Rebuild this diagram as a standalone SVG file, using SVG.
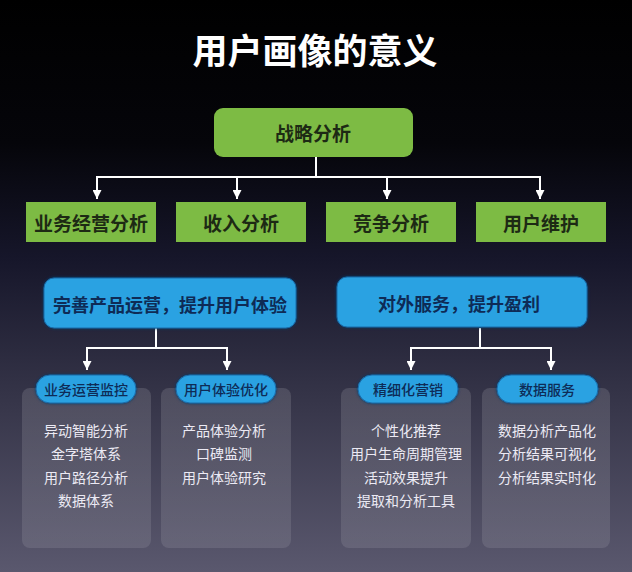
<svg xmlns="http://www.w3.org/2000/svg" width="632" height="572" viewBox="0 0 632 572">
<defs>
<linearGradient id="bg" x1="0" y1="0" x2="0" y2="1">
<stop offset="0" stop-color="#000000"/>
<stop offset="0.25" stop-color="#05050a"/>
<stop offset="0.45" stop-color="#16162a"/>
<stop offset="0.7" stop-color="#363549"/>
<stop offset="1" stop-color="#5a586e"/>
</linearGradient>
<linearGradient id="panel" x1="0" y1="0" x2="0" y2="1">
<stop offset="0" stop-color="#ffffff" stop-opacity="0.13"/>
<stop offset="1" stop-color="#ffffff" stop-opacity="0.10"/>
</linearGradient>
<filter id="glow" x="-10%" y="-30%" width="120%" height="160%">
<feGaussianBlur in="SourceAlpha" stdDeviation="2"/>
<feFlood flood-color="#0b3a6a"/>
<feComposite operator="in" in2="SourceAlpha"/>
<feGaussianBlur stdDeviation="1.5"/>
<feMerge><feMergeNode/><feMergeNode in="SourceGraphic"/></feMerge>
</filter>
<marker id="arrow" viewBox="0 0 10 10" refX="10" refY="5" markerWidth="9" markerHeight="9" orient="auto" markerUnits="userSpaceOnUse">
<path d="M0,0 L10,5 L0,10 z" fill="#ffffff"/>
</marker>
</defs>
<style>
text{font-family:"Noto Sans CJK SC","Noto Sans",sans-serif;text-anchor:middle;dominant-baseline:central}
.title{font-size:35px;font-weight:700;fill:#ffffff}
.green{fill:#7dbb44}
.gtxt{font-size:19px;font-weight:700;fill:#1d2a14}
.blue{fill:#29a2e2;stroke:#1a6aa8;stroke-width:1}
.btxt{font-size:18px;font-weight:700;fill:#0e2b56}
.pill{fill:#29a2e2;stroke:#1a6aa8;stroke-width:1}
.ptxt{font-size:14px;font-weight:500;fill:#0e2b56}
.panel{fill:url(#panel)}
.item{font-size:14px;fill:#eceaf4}
.conn{stroke:#ffffff;stroke-width:2;fill:none}
</style>
<rect x="0" y="0" width="632" height="572" fill="url(#bg)"/>
<text class="title" x="315" y="48">用户画像的意义</text>

<g id="connectors">
<path class="conn" d="M316,157 V177 M96,177 H540"/>
<path class="conn" d="M97,176 V199" marker-end="url(#arrow)"/>
<path class="conn" d="M237,176 V199" marker-end="url(#arrow)"/>
<path class="conn" d="M387,176 V199" marker-end="url(#arrow)"/>
<path class="conn" d="M540,176 V199" marker-end="url(#arrow)"/>
<path class="conn" d="M156,328 V348 M86,348 H228"/>
<path class="conn" d="M87,347 V370" marker-end="url(#arrow)"/>
<path class="conn" d="M227,347 V370" marker-end="url(#arrow)"/>
<path class="conn" d="M480,328 V348 M410,348 H552"/>
<path class="conn" d="M411,347 V370" marker-end="url(#arrow)"/>
<path class="conn" d="M551,347 V370" marker-end="url(#arrow)"/>
</g>

<g id="strategy">
<rect class="green" x="214" y="108" width="199" height="49" rx="9"/>
<text class="gtxt" x="313" y="132">战略分析</text>
</g>
<g id="biz-analysis">
<rect class="green" x="26" y="202" width="130" height="40"/>
<text class="gtxt" x="91" y="222">业务经营分析</text>
</g>
<g id="income-analysis">
<rect class="green" x="176" y="202" width="130" height="40"/>
<text class="gtxt" x="241" y="222">收入分析</text>
</g>
<g id="compete-analysis">
<rect class="green" x="326" y="202" width="130" height="40"/>
<text class="gtxt" x="391" y="222">竞争分析</text>
</g>
<g id="user-maint">
<rect class="green" x="476" y="202" width="130" height="40"/>
<text class="gtxt" x="541" y="222">用户维护</text>
</g>

<g id="improve-ops">
<rect class="blue" x="44" y="278" width="252" height="50" rx="10" filter="url(#glow)"/>
<text class="btxt" x="170" y="304">完善产品运营，提升用户体验</text>
</g>
<g id="external-service">
<rect class="blue" x="337" y="277" width="250" height="50" rx="10" filter="url(#glow)"/>
<text class="btxt" x="459" y="303">对外服务，提升盈利</text>
</g>

<g id="ops-monitor">
<rect class="panel" x="22" y="388" width="129" height="160" rx="8"/>
<rect class="pill" x="36" y="375" width="100" height="28" rx="14" filter="url(#glow)"/>
<text class="ptxt" x="86" y="389">业务运营监控</text>
<text class="item" x="86" y="430">异动智能分析</text>
<text class="item" x="86" y="453">金字塔体系</text>
<text class="item" x="86" y="477">用户路径分析</text>
<text class="item" x="86" y="500">数据体系</text>
</g>
<g id="ux-opt">
<rect class="panel" x="161" y="388" width="130" height="160" rx="8"/>
<rect class="pill" x="176" y="375" width="100" height="28" rx="14" filter="url(#glow)"/>
<text class="ptxt" x="226" y="389">用户体验优化</text>
<text class="item" x="224" y="430">产品体验分析</text>
<text class="item" x="224" y="453">口碑监测</text>
<text class="item" x="224" y="477">用户体验研究</text>
</g>
<g id="fine-marketing">
<rect class="panel" x="341" y="388" width="130" height="160" rx="8"/>
<rect class="pill" x="358" y="375" width="100" height="28" rx="14" filter="url(#glow)"/>
<text class="ptxt" x="408" y="389">精细化营销</text>
<text class="item" x="406" y="430">个性化推荐</text>
<text class="item" x="406" y="453">用户生命周期管理</text>
<text class="item" x="406" y="477">活动效果提升</text>
<text class="item" x="406" y="500">提取和分析工具</text>
</g>
<g id="data-service">
<rect class="panel" x="482" y="388" width="128" height="160" rx="8"/>
<rect class="pill" x="497" y="375" width="101" height="28" rx="14" filter="url(#glow)"/>
<text class="ptxt" x="547" y="389">数据服务</text>
<text class="item" x="547" y="430">数据分析产品化</text>
<text class="item" x="547" y="453">分析结果可视化</text>
<text class="item" x="547" y="477">分析结果实时化</text>
</g>
</svg>
